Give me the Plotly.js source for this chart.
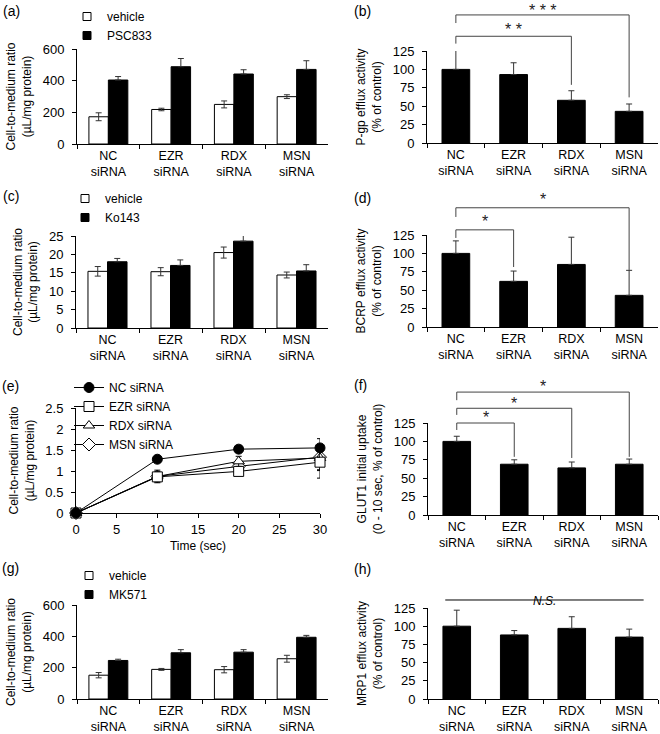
<!DOCTYPE html>
<html>
<head>
<meta charset="utf-8">
<script src="https://cdn.plot.ly/plotly-3.0.1.min.js"></script>
<style>body{margin:0;background:#fff} #fig{width:660px;height:734px}</style>
</head>
<body>
<div id="fig"></div>
<script>
"use strict";
var groups = ["NC<br>siRNA", "EZR<br>siRNA", "RDX<br>siRNA", "MSN<br>siRNA"];

// (a) cell-to-medium ratio, P-gp inhibitor
var a_vehicle = [172, 218, 250, 299];
var a_vehicle_sd = [25, 8, 22, 12];
var a_psc833 = [404, 488, 442, 471];
var a_psc833_sd = [22, 52, 27, 55];

// (b) P-gp efflux activity
var b_pgp = [100, 93, 58, 43];
var b_pgp_sd = [27, 16, 13, 10];

// (c) cell-to-medium ratio, BCRP inhibitor
var c_vehicle = [15.4, 15.3, 20.5, 14.4];
var c_vehicle_sd = [1.3, 1.1, 1.5, 0.8];
var c_ko143 = [18.0, 17.0, 23.6, 15.5];
var c_ko143_sd = [0.9, 1.5, 1.9, 1.7];

// (d) BCRP efflux activity
var d_bcrp = [100, 62, 85, 43];
var d_bcrp_sd = [17, 14, 37, 34];

// (e) time course
var e_time = [0, 10, 20, 30];
var e_nc = [0, 1.28, 1.52, 1.55];
var e_nc_sd = [0, 0.03, 0.04, 0.22];
var e_ezr = [0, 0.86, 0.99, 1.21];
var e_ezr_sd = [0, 0.12, 0.05, 0.38];
var e_rdx = [0, 0.87, 1.23, 1.31];
var e_rdx_sd = [0, 0.15, 0.12, 0.30];
var e_msn = [0, 0.87, 1.11, 1.33];
var e_msn_sd = [0, 0.10, 0.10, 0.30];

// (f) GLUT1 initial uptake
var f_glut1 = [100, 69, 64, 69];
var f_glut1_sd = [7, 6, 8, 7];

// (g) cell-to-medium ratio, MRP inhibitor
var g_vehicle = [152, 189, 187, 257];
var g_vehicle_sd = [17, 6, 20, 22];
var g_mk571 = [246, 295, 299, 394];
var g_mk571_sd = [8, 20, 16, 12];

// (h) MRP1 efflux activity
var h_mrp1 = [100, 88, 97, 85];
var h_mrp1_sd = [22, 6, 16, 11];

var W = 660, H = 734;
var FONT = "Liberation Sans, Arial, sans-serif";

function xdom(left, right){ return [left / W, right / W]; }
function ydom(top, bottom){ return [1 - bottom / H, 1 - top / H]; }

// error bars; on black bars only the upper half shows anyway
function err(arr, upOnly){
  var e = {type: "data", array: arr, visible: true, color: "#333", thickness: 1, width: 3};
  if(upOnly){
    e.symmetric = false;
    e.arrayminus = arr.map(function(){ return 0; });
  }
  return e;
}

function catAxis(dom, anchor){
  return {domain: dom, anchor: anchor, type: "category", showline: true, linecolor: "black",
    linewidth: 1, ticks: "outside", tickson: "boundaries", ticklen: 4, tickcolor: "black",
    tickfont: {size: 12.5}, showgrid: false, zeroline: false};
}

function valAxis(dom, anchor, range, dtick, title){
  return {domain: dom, anchor: anchor, range: range, dtick: dtick, showline: true,
    linecolor: "black", linewidth: 1, ticks: "outside", ticklen: 4, tickcolor: "black",
    tickfont: {size: 13}, ticklabelstandoff: 5, showgrid: false, zeroline: false,
    title: {text: title, font: {size: 12}, standoff: 8}};
}

// legend entries drawn as small squares, like the original key
function keyEntry(name, fill, leg){
  return {type: "scatter", mode: "markers", x: [null], y: [null], name: name, legend: leg,
    xaxis: "x", yaxis: "y",
    marker: {symbol: "square", size: 8, color: fill, line: {color: "black", width: 1}}};
}

function pairBars(xa, ya, a, asd, b, bsd, names, leg){
  return [
    {type: "bar", x: groups, y: a, name: names[0], xaxis: xa, yaxis: ya, showlegend: false,
      marker: {color: "white", line: {color: "black", width: 1}}, error_y: err(asd, false)},
    {type: "bar", x: groups, y: b, name: names[1], xaxis: xa, yaxis: ya, showlegend: false,
      marker: {color: "black", line: {color: "black", width: 1}}, error_y: err(bsd, true)},
    keyEntry(names[0], "white", leg),
    keyEntry(names[1], "black", leg)
  ];
}

function singleBars(xa, ya, v, sd){
  return {type: "bar", x: groups, y: v, xaxis: xa, yaxis: ya, width: 0.48, showlegend: false,
    marker: {color: "black", line: {color: "black", width: 1}}, error_y: err(sd, true)};
}

function line(xa, ya, v, sd, name, symbol, fill, rank){
  return {type: "scatter", mode: "lines+markers", x: e_time, y: v, name: name,
    xaxis: xa, yaxis: ya, legend: "legend3", legendrank: rank, cliponaxis: false,
    line: {color: "black", width: 1},
    marker: {symbol: symbol, size: 10, color: fill, line: {color: "black", width: 1}},
    error_y: {type: "data", array: sd, visible: true, color: "black", thickness: 1, width: 3}};
}

var data = [];
data = data.concat(pairBars("x", "y", a_vehicle, a_vehicle_sd, a_psc833, a_psc833_sd, ["vehicle", "PSC833"], "legend"));
data.push(singleBars("x2", "y2", b_pgp, b_pgp_sd));
data = data.concat(pairBars("x3", "y3", c_vehicle, c_vehicle_sd, c_ko143, c_ko143_sd, ["vehicle", "Ko143"], "legend2"));
data.push(singleBars("x4", "y4", d_bcrp, d_bcrp_sd));
data.push(line("x5", "y5", e_msn, e_msn_sd, "MSN siRNA", "diamond", "white", 4));
data.push(line("x5", "y5", e_rdx, e_rdx_sd, "RDX siRNA", "triangle-up", "white", 3));
data.push(line("x5", "y5", e_ezr, e_ezr_sd, "EZR siRNA", "square", "white", 2));
data.push(line("x5", "y5", e_nc, e_nc_sd, "NC siRNA", "circle", "black", 1));
data.push(singleBars("x6", "y6", f_glut1, f_glut1_sd));
data = data.concat(pairBars("x7", "y7", g_vehicle, g_vehicle_sd, g_mk571, g_mk571_sd, ["vehicle", "MK571"], "legend4"));
data.push(singleBars("x8", "y8", h_mrp1, h_mrp1_sd));

// significance brackets, y in % units above the 125 axis top
var TOP = 125;
var shapes = [];
var notes = [];
function bracket(xa, ya, from, to, top, leftEnd, rightEnd, label, labelY){
  var yr = ya + " domain";
  var st = {color: "#444", width: 1};
  shapes.push({type: "line", xref: xa, yref: yr, x0: from, x1: to, y0: top / TOP, y1: top / TOP, line: st});
  shapes.push({type: "line", xref: xa, yref: yr, x0: from, x1: from, y0: top / TOP, y1: leftEnd / TOP, line: st});
  shapes.push({type: "line", xref: xa, yref: yr, x0: to, x1: to, y0: top / TOP, y1: rightEnd / TOP, line: st});
  notes.push({xref: xa, yref: yr, x: (from + to) / 2, y: labelY / TOP, text: label, showarrow: false,
    font: {size: 16, color: "#222"}, yanchor: "middle"});
}
bracket("x2", "y2", 0, 3, 174, 163, 62, "* * *", 180);
bracket("x2", "y2", 0, 2, 145, 135, 79, "* *", 154);
bracket("x4", "y4", 0, 3, 162, 149.5, 77.5, "*", 173);
bracket("x4", "y4", 0, 1, 132, 121, 81.5, "*", 143);
bracket("x6", "y6", 0, 3, 167, 156, 79, "*", 175);
bracket("x6", "y6", 0, 2, 145, 136, 77.5, "*", 152);
bracket("x6", "y6", 0, 1, 125, 115.5, 79, "*", 132);
shapes.push({type: "line", xref: "x8", yref: "y8 domain", x0: -0.2, x1: 3.25, y0: 136 / TOP, y1: 136 / TOP,
  line: {color: "black", width: 1}});
notes.push({xref: "x8", yref: "y8 domain", x: 1.52, y: 147 / TOP, text: "<i>N.S.</i>", showarrow: false,
  font: {size: 12}});

var panels = [["(a)", 1, 11], ["(b)", 352, 11], ["(c)", 1, 196], ["(d)", 352, 198],
  ["(e)", 0, 386], ["(f)", 352, 385], ["(g)", 0, 568], ["(h)", 352, 569]];
panels.forEach(function(p){
  notes.push({xref: "paper", yref: "paper", x: p[1] / W, y: 1 - p[2] / H, xanchor: "left",
    yanchor: "middle", text: p[0], showarrow: false, font: {size: 14}});
});

var ctm = "Cell-to-medium ratio<br>(µL/mg protein)";
function legendAt(px, py){
  return {x: px / W, y: 1 - py / H, xanchor: "left", yanchor: "top", bgcolor: "rgba(0,0,0,0)",
    font: {size: 12}, borderwidth: 0};
}

var layout = {
  width: W, height: H,
  margin: {l: 0, r: 0, t: 0, b: 0},
  paper_bgcolor: "white", plot_bgcolor: "white",
  font: {family: FONT, color: "black", size: 12},
  barmode: "group", bargap: 0.38, bargroupgap: 0,
  showlegend: true,
  legend: legendAt(67, 2),
  legend2: legendAt(65, 184),
  legend3: legendAt(69, 373),
  legend4: legendAt(69, 561),
  xaxis: catAxis(xdom(77, 328), "y"),
  yaxis: valAxis(ydom(49, 144), "x", [0, 600], 200, ctm),
  xaxis2: catAxis(xdom(427, 658), "y2"),
  yaxis2: valAxis(ydom(51, 143), "x2", [0, 125], 25, "P-gp efflux activity<br>(% of control)"),
  xaxis3: catAxis(xdom(76, 328), "y3"),
  yaxis3: valAxis(ydom(236, 328), "x3", [0, 25], 5, ctm),
  xaxis4: catAxis(xdom(427, 658), "y4"),
  yaxis4: valAxis(ydom(235, 327), "x4", [0, 125], 25, "BCRP efflux activity<br>(% of control)"),
  xaxis5: {domain: xdom(76, 320), anchor: "y5", range: [0, 30], dtick: 5, showline: true,
    linecolor: "black", ticks: "outside", ticklen: 4, tickcolor: "black", showgrid: false,
    zeroline: false, tickfont: {size: 13}, title: {text: "Time (sec)", font: {size: 12}, standoff: 6}},
  yaxis5: valAxis(ydom(408, 513), "x5", [0, 2.5], 0.5, ctm),
  xaxis6: catAxis(xdom(428, 658), "y6"),
  yaxis6: valAxis(ydom(423, 515), "x6", [0, 125], 25, "GLUT1 initial uptake<br>(0 - 10 sec, % of control)"),
  xaxis7: catAxis(xdom(77, 328), "y7"),
  yaxis7: valAxis(ydom(605, 699), "x7", [0, 600], 200, ctm),
  xaxis8: catAxis(xdom(428, 658), "y8"),
  yaxis8: valAxis(ydom(608, 699), "x8", [0, 125], 25, "MRP1 efflux activity<br>(% of control)"),
  shapes: shapes,
  annotations: notes
};

Plotly.newPlot("fig", data, layout, {staticPlot: true});
</script>
</body>
</html>
